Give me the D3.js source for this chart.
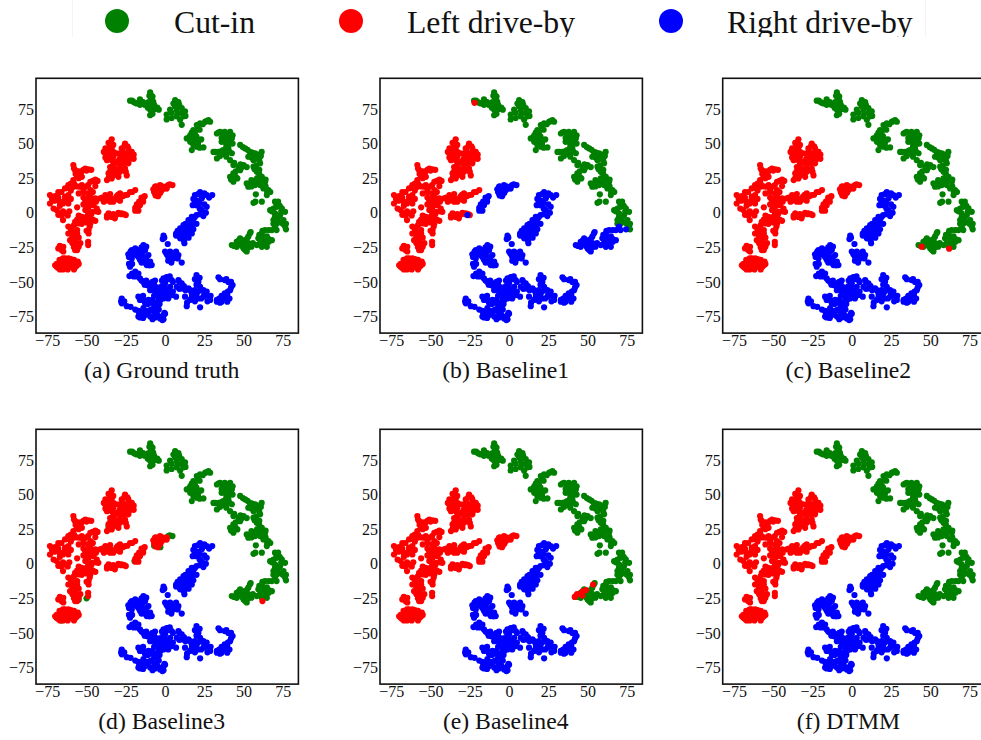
<!DOCTYPE html>
<html>
<head>
<meta charset="utf-8">
<script src="https://cdn.jsdelivr.net/npm/d3@7"></script>
<style>
  html, body { margin: 0; padding: 0; background: #fff; overflow: hidden; }
  svg { display: block; }
  text { font-family: "Liberation Serif", serif; fill: #111; }
</style>
</head>
<body>
<svg id="chart" width="981" height="740"></svg>
<script>
const classNames = ["Cut-in", "Left drive-by", "Right drive-by"];
const classColors = ["#008000", "#ff0000", "#0000ff"];
const xTicks = [-75, -50, -25, 0, 25, 50, 75];
const yTicks = [-75, -50, -25, 0, 25, 50, 75];

// t-SNE points
const cutInMain = [
  [-22.3,81],[-20,80],[-18,79],[-16,82],[-14,80],[-16,78],[-21,81],[-19,79.5],[-13,78],[-15,80],
  [-9.5,87],[-9,85],[-9,83],[-10.5,80],[-8.5,78],[-6.5,75],[-4,74.5],[-8.5,73],[-9.5,70.5],[-11.5,79],[-8,81],[-7,78],[-9,76],[-11,76],[-10,84.5],[-8,84],[-7.5,80],[-9.5,74.5],[-5,76],[-8,71.5],[-10,78],
  [6.4,81.4],[8.5,80],[5.3,79],[3.2,74.5],[1,71],[1,67.5],[4.2,72.3],[7.4,74.5],[10.6,75.7],[12.7,73.3],[11.7,69.7],[9.6,67.3],[10.6,63.6],[7.4,69.7],[4.2,68.5],[6.4,77],[9,78],[11,72],[13,70],[8,72],
  [27.6,67],[25.5,65.8],[22.3,64.6],[20.2,63.4],[18,59.8],[16,56],[13.8,53.7],[17,52.5],[20,55],[21.2,51.3],[18,49],[17,45.3],[20.2,47.7],[24.4,47.2],[22,60],[28.7,65.8],[19,57.3],[16,51.3],[22,47],[24,64],[21,61],[18.5,55],[23,53],[15,54],[19,52],[21,49],[26,66],[17,58],
  [33,57.3],[35,58.5],[38,58.5],[41.4,58.5],[37,56],[39,55],[42.5,53.7],[41.4,50],[38,51.3],[36,51.3],[40.3,46.5],[42.5,43],[37,45.3],[34,44],[30.8,44],[33,39.3],[39,40.5],[41.4,38],[43.5,34.5],[46.7,33.3],[50,34.5],[47.8,30.8],[41.4,26],[43.5,28.4],[46,24.8],[43.5,22.4],
  [34,58],[40,57],[43,56],[36,54],[40,52.5],[43,50],[39,48],[41,44],[38,42.5],[32,44],[35,41],[36,44.5],[44,36],[48,35],[52,33],[49,33],[45,30],[42,24],[45,26],
  [47.8,49],[51,46.5],[54,44],[57.3,43],[61.5,44],[59.4,39.3],[56.3,38],[53,40.5],[60.5,35.7],[56.3,33.3],[58.4,29.6],[61.6,26],[63.7,22.4],[58.4,24.8],[55,23.6],[52,21.2],[53,18.8],[57.3,20],[60.5,20],[62.6,17.6],[65.8,16.4],[64.8,12.8],[57.8,13.3],[56.3,7.2],[61.6,8],
  [49.5,47.5],[52.5,45.5],[55.5,43.5],[59,42],[61,41],[58,41],[60,37.5],[55,40],[58,34],[60,31],[57,31.5],[60,28],[62,24],[64,24],[60,23],[56,22],[54,21],[59,21],[55,19],[64,19],[67,15],[65,15],[57.5,8],
  [70,8],[72,8],[71,4.3],[74.3,3.1],[76.4,0.7],[66.9,1.9],[70,-0.5],[73.3,-1.7],[69,-5.3],[72,-6.5],[75.4,-5.3],[76.4,-10],[77,-12],[71,6],[73,5],[68,1],[69,3],[74,1],[72,-3],[70,-3],[71,-8],[74,-7],[75,-8],[77,-8],[69,-8]
];
const cutInHook = [
  [71,-12.5],[68,-12.5],[63.7,-12.5],[61.6,-15],[64.8,-17],[68,-19.8],[59.4,-18.5],[62.6,-21],[58.4,-23.4],[61.6,-24.6],[64.8,-24.6],
  [54,-15],[53,-17.3],[47.8,-18.5],[45.6,-21],[42.5,-23.4],[48.8,-22],[51,-23.4],[53,-22],[52,-28],[50,-25.8],[45.6,-24.6],[55,-24.5],
  [70,-11],[66,-12.5],[62,-13],[60,-16],[63,-18.5],[66,-19],[60.5,-22],[63,-23],[66,-21],[56,-22],[50,-20],[47,-20],[46,-23],[49,-24],[44,-24],[51,-27],[53,-25],[54,-23],[52,-19],[54.5,-14]
];
const leftMain = [
  [-34,53],[-36,50.5],[-38,46.5],[-35,46.5],[-33,49],[-33,44],[-37,41.7],[-33,40.5],[-37,38],[-32,37],[-35,33],[-32,32],[-36,28.4],[-33,27],[-37,23.6],[-34,24.8],[-28.7,29.6],[-25.5,32],[-24.4,27],
  [-25.5,50],[-27.6,46.5],[-23.4,46.5],[-21.2,44],[-25.5,43],[-28.7,43],[-21.2,40],[-24.4,39],[-27.6,38],[-23.4,35.7],[-28.7,34.5],[-31,43],[-31,28.4],[-29.7,26],
  [-35,49],[-37,44],[-34,47],[-35,43],[-36,40],[-34,38],[-33,35],[-35,30],[-32,30],[-34,27],[-36,25],[-30,31],[-27,31],[-25,29.5],[-23,38],[-26,48],[-24,48],[-27,44],[-23,43],[-26,41],[-29,39],[-26,36],[-22,42],[-30,36],
  [-39,44],[-38,40],[-20,42],[-20,39],
  [-41.4,10.4],[-38,12.8],[-35,13.5],[-37,9],[-33,8],[-31,11.6],[-28.7,14],[-25.5,12.8],[-22.3,15],[-19,16.4],[-28.7,8.7],[-24,13],[-40,11],[-36,11],[-34,10],[-39,8],[-30,9.5],[-27,12],[-21,15],[-30,13],[-35,8],
  [-36,-0.5],[-37,-3.4],[-34,-3],[-32,-4],[-29.7,0],[-27.6,-0.5],[-25,-1.7],[-31,-1.5],[-35,-2],[-33,-1],[-28,-1],[-26,-1],[-37,-2],
  [-58.4,34.5],[-57.3,30.8],[-54,28.4],[-50.8,32],[-48.7,31.3],[-53,30],[-56,26],[-58.4,23.6],[-61.6,20],[-63.7,17.6],[-68,15],[-73.3,12.8],[-73.3,6.7],[-69,10.4],[-70.4,8.7],[-67.2,8],[-63.7,11.6],[-61.6,12.8],[-65,6.7],[-61.6,6.7],[-69,2],[-67.2,-0.5],[-63.7,-0.5],[-65,-5.3],[-61,1],[-56,3.9],
  [-58,32],[-55,30],[-52,31],[-50,30.5],[-47,31],[-57,28],[-55,25],[-53,26],[-58,21],[-60,21],[-62,18],[-66,15],[-60,16],[-70,12],[-72,10],[-68,11],[-62,9],[-64,9],[-60,10],[-67,5],[-71,3],[-68,-1.5],[-65,1],[-62,-2],[-66,-2],
  [-58.4,18.8],[-54,18.8],[-50.8,18.8],[-47.6,22.4],[-44.4,24],[-44.4,19.3],[-47.6,16.4],[-52,15],[-55,14],[-47.6,12.8],[-50.8,9],[-47.6,8],[-44.4,10.4],[-45.6,5.5],[-48.7,4.3],[-43.5,3],[-42.5,0.7],[-46.7,0.7],[-50.8,2],
  [-56,19],[-53,20],[-49,20],[-46,23],[-43,23],[-52,17],[-49,14],[-46,15],[-52,11],[-49,10],[-46,10],[-50,7],[-47,6],[-44,8],[-44,1],[-47,-1],[-50,4],[-52,6],[-49,0],
  [-54,-4],[-57.3,-6.5],[-55,-7.7],[-52,-5.3],[-48.7,-4],[-44.4,-5.8],[-47.6,-7.7],[-61.6,-10],[-59.4,-12.5],[-56,-12.5],[-48.7,-12.5],[-48.7,-15],[-61.6,-15],[-57.3,-17.3],[-60.5,-19.8],[-57.3,-21],[-55,-24.6],[-57.3,-27],[-49,-21],[-49,-23.4],[-55,-18],
  [-55,-2],[-53,-3],[-56,-5],[-53,-8],[-50,-7],[-46,-5],[-50,-3],[-47,-5],[-58,-9],[-60,-12],[-58,-15],[-59,-17],[-56,-15],[-59,-22],[-56,-23],[-58,-25],[-56,-27],[-54,-22],[-50,-13],[-48,-10],
  [-67,-24],[-68,-25.8],[-64.8,-24.6],[-64.8,-28],[-63.7,-33],[-67.2,-34],[-69,-39],[-66,-39.5],[-62.7,-37.8],[-59.4,-39],[-60.5,-35.4],[-57.3,-36.6],[-55.6,-35.4],[-64.8,-36.6],[-61.5,-33],[-58,-34],
  [-66,-27],[-65,-33],[-66,-36],[-68,-37],[-68,-40],[-64,-39],[-61,-38.5],[-57,-39],[-56,-38],[-63,-35],[-59,-36],[-62,-36],[-60,-33.5],[-69,-37],
  [-67,-41],[-62,-41],[-58,-41],[-65,-41],[-55,-37],[-70,-38]
];
const leftArm = [[-13.8,11],[-15,8.7],[-17,6.3],[-18.5,3],[-16,5.5],[-14.5,10],[-17.5,4.5],[-13,12],[-15,11],[-16.5,8],[-18,6],[-19,3.5],[-17,1.5],[-19,1.5],[-14,8]];
const leftBlob = [[-6.4,18.8],[-3.2,20],[-1,18.8],[-5.3,16.4],[-3.2,17],[-6.4,14],[-4.2,12.8],[0,18],[-7.5,17],[-4.8,18.8],[-5,15],[-6,19],[-2,19],[-4,15],[-5,13.5],[1,19],[-5.5,17.5],[-7,15],[-3,14.5],[-2,16.5],[-1,17.5],[1,17.5],[-4.5,12],[-6,12.5]];
const leftBlobTip = [[2,20],[4.7,20],[3,20.5]];
const rightMain = [
  [22.3,15],[19,12.8],[24.4,12.8],[26.5,12.8],[30,12.8],[20,9],[23.4,10.4],[17.6,5.5],[20,5.5],[26.5,4.3],[23.4,2],[24.4,-2.4],[20,-1.7],[17,-3],[14.9,-5.3],[18,-6.5],[11.7,-9],[13.8,-10],[17,-10],[9.6,-11.3],[7,-15],[10.6,-15],[13.8,-15],[9.6,-18.5],[12.3,-22],[17,-15],
  [21,13.5],[25,14],[28,11],[18,10],[22,7],[19,7],[25,6],[22,3],[26,0],[22,-1],[19,-3],[16,-5],[13,-8],[20,-8],[15,-8],[12,-12],[15,-12],[18,-12],[8,-13],[10,-17],[7,-16.5],[12,-18],[15,-18],[12,-20],
  [-1,-16.6],[-1.5,-19],[1.7,-22.6],[0,-28],[3.2,-28],[5.3,-29.4],[8.5,-30.6],[2,-31.8],[5.3,-33],[2,-34.7],[10.6,-36],[7,-28],[1,-30],[4,-31],[6,-31],[8,-33],[4,-36],[3,-33],[-0.5,-18],
  [-23.4,-30],[-21.2,-27],[-19,-25.8],[-13.8,-23.4],[-16,-27],[-12.7,-27],[-10.6,-30.6],[-14.9,-30.6],[-18,-30.6],[-21.2,-33],[-16,-34],[-12.7,-34],[-9.5,-35.4],[-11.7,-37.8],[-8.5,-37.8],[-22.3,-39],[-22.7,-45.8],[-19,-42.6],[-18,-46],[-16,-47.5],[-13.8,-50],[-11.7,-52.3],[-6.4,-49],[-9.5,-51],
  [-22,-28],[-23,-32],[-18,-27],[-15,-25],[-12,-24.5],[-17,-32],[-14,-28],[-12,-32],[-15,-36],[-10,-38],[-13,-36],[-17,-29],[-20,-30],[-23,-37],[-21,-37],[-21,-44],[-20,-46],[-17,-44],[-15,-49],[-12,-49],[-10,-53],[-8,-50],[-13,-52],[-7,-52],
  [-1,-47.5],[2,-48],[4.2,-48.7],[0,-51],[8.5,-48.7],[10.6,-51],[7.4,-53.5],[10.6,-54.7],[14.9,-54.7],[20,-45],[21.2,-50],[22.3,-53.5],[19,-56],[24.4,-56],[26.5,-57],[17,-58.3],[20,-59.5],[24.4,-60.7],[28.7,-63],[15.9,-63],[13.8,-67.5],[22.3,-68.4],[19,-64],[12.7,-60.7],
  [1,-46.5],[3,-46],[-2,-49],[5,-50],[-0.5,-53],[9,-50],[12,-53],[9,-55],[13,-56],[16,-56],[19,-48],[22,-47],[20,-52],[21,-57],[25,-58],[23,-62],[17,-61],[21,-62],[27,-60],[29,-60],[14,-65],[27,-64],[18,-61],[23,-56],
  [34,-46.7],[38,-48.7],[40.3,-50],[43,-52.3],[41.4,-56],[38,-58.3],[37,-60.7],[39.6,-59.5],[33,-64.3],[36,-64.3],[39.6,-64.3],[34.5,-62],[35,-48],[39,-48],[42,-50],[42,-54],[38,-61],[40,-57],[36,-60],[33,-63],[35,-65],[38,-62],[41,-62],
  [-9.5,-56],[-6.4,-57],[-3.2,-56],[0,-56],[3.2,-53.5],[1,-59.5],[4.2,-59.5],[7,-60.7],[-1,-62],[-4.2,-63],[-6.4,-65.5],[-10.6,-63],[-13.8,-63],[-17,-60.7],[-12.7,-65.5],[-5.3,-68],[-3.5,-66],
  [-8,-54],[-5,-54],[-2,-53],[-3,-58],[-7,-60],[-4,-60],[-1,-59],[2,-56],[5,-57],[2,-62],[-8,-63],[-11,-66],[-16,-63],[-14,-60],[-5,-65],[-3,-63],[-7,-68],[-4,-70],[-9,-65],
  [-27.6,-62],[-27.6,-65.5],[-24.4,-67.5],[-19,-70],[-16.4,-72.8],[-16,-75.7],[-12.7,-74],[-13.8,-69],[-10.6,-71],[-9.5,-75],[-6.4,-75.7],[-3.2,-76.4],[-1.7,-77.6],[-1,-74],[-0.4,-72.3],[-5.3,-73],
  [-26,-64],[-28,-64],[-22,-68],[-17,-71],[-14,-76],[-15,-72],[-17,-75],[-11,-73],[-9,-70],[-7,-72],[-13,-71],[-8,-77],[-5,-74],[-2,-75],[-1,-77],[0,-73]
];

// points that a model put in another class
const b1Red = [[-22,79.5]];
const b1Blue = [[-26.5,-1.7],[70,-10],[74.5,-12]];
const b2Red = [[44.5,-24.5],[62,-26]];
const b3Green = [[-22,40],[-50,-25],[-69,-39],[-66,-41],[-7,13],[-3,12],[-14,9.5],[-19.5,2],[-36,27],[-55,-26]];
const b3Red = [[62,-27]];
const b4Red = [[53.5,-15],[49,-19],[46.7,-20],[46.7,-23],[43.3,-22],[41.8,-24]];

const panels = [
  { title: "(a) Ground truth", left: 36, top: 78.3,
    series: [[cutInMain, cutInHook], [leftMain, leftArm, leftBlob, leftBlobTip], [rightMain]] },
  { title: "(b) Baseline1", left: 380, top: 78.3,
    series: [[cutInMain], [leftMain, b1Red], [rightMain, leftArm, leftBlob, leftBlobTip, cutInHook, b1Blue]] },
  { title: "(c) Baseline2", left: 722.7, top: 78.3,
    series: [[cutInMain, cutInHook], [leftMain, leftArm, leftBlob, leftBlobTip, b2Red], [rightMain]] },
  { title: "(d) Baseline3", left: 36, top: 429.3,
    series: [[cutInMain, cutInHook, leftBlobTip, b3Green], [leftMain, leftArm, leftBlob, b3Red], [rightMain]] },
  { title: "(e) Baseline4", left: 380, top: 429.3,
    series: [[cutInMain, cutInHook], [leftMain, leftArm, leftBlob, leftBlobTip, b4Red], [rightMain]] },
  { title: "(f) DTMM", left: 722.7, top: 429.3,
    series: [[cutInMain, cutInHook], [leftMain, leftArm, leftBlob, leftBlobTip], [rightMain]] },
];

const plotWidth = 262.4;
const plotHeight = 254.8;
const x = d3.scaleLinear().domain([-82.2, 84.9]).range([0, plotWidth]);
const y = d3.scaleLinear().domain([-87, 97.2]).range([plotHeight, 0]);

const svg = d3.select("#chart");

function drawLegend() {
  const legendX = [117, 351, 671];
  const labelX = [174, 407, 727];
  svg.append("defs").append("clipPath").attr("id", "legendClip")
    .append("rect").attr("x", 0).attr("y", 0).attr("width", 981).attr("height", 37);
  const g = svg.append("g").attr("clip-path", "url(#legendClip)");
  g.append("rect").attr("x", 72.5).attr("y", -6).attr("width", 853).attr("height", 60)
    .attr("fill", "none").attr("stroke", "#f4f4f4");
  classNames.forEach((name, i) => {
    g.append("circle").attr("cx", legendX[i]).attr("cy", 21).attr("r", 12).attr("fill", classColors[i]);
    g.append("text").attr("x", labelX[i]).attr("y", 33).attr("font-size", 31.7).text(name);
  });
}

function drawPanel(panel) {
  const g = svg.append("g").attr("transform", `translate(${panel.left},${panel.top})`);

  panel.series.forEach((groups, i) => {
    g.append("g").selectAll("circle")
      .data(groups.flat())
      .enter()
      .append("circle")
      .attr("cx", (d) => x(d[0]))
      .attr("cy", (d) => y(d[1]))
      .attr("r", 3.1)
      .attr("fill", classColors[i]);
  });

  const xAxis = g.append("g").attr("transform", `translate(0,${plotHeight})`)
    .call(d3.axisBottom(x).tickValues(xTicks).tickSize(0).tickPadding(2));
  const yAxis = g.append("g")
    .call(d3.axisLeft(y).tickValues(yTicks).tickSize(0).tickPadding(2));
  [xAxis, yAxis].forEach((axis) => {
    axis.select(".domain").remove();
    axis.selectAll("text").attr("font-size", 16).style("fill", "#111");
  });

  g.append("rect").attr("width", plotWidth).attr("height", plotHeight)
    .attr("fill", "none").attr("stroke", "#111").attr("stroke-width", 1.6);

  g.append("text").attr("x", plotWidth / 2 - 5.5).attr("y", 300)
    .attr("text-anchor", "middle").attr("font-size", 23.7).text(panel.title);
}

drawLegend();
panels.forEach(drawPanel);
</script>
</body>
</html>
